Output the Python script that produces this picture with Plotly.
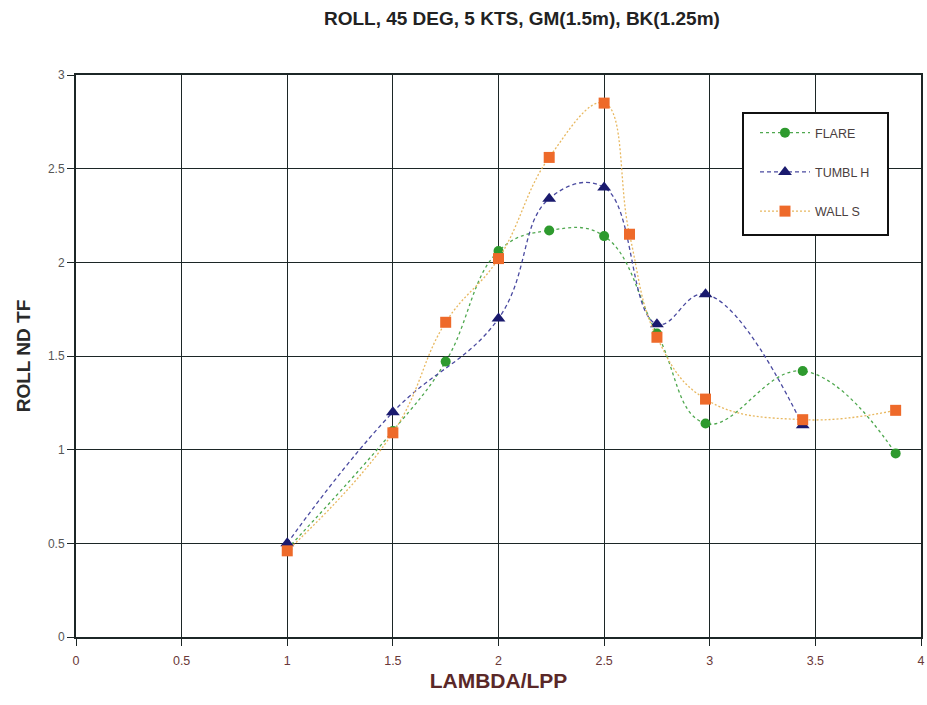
import plotly.graph_objects as go

title = "ROLL, 45 DEG, 5 KTS, GM(1.5m), BK(1.25m)"
x_title = "LAMBDA/LPP"
y_title = "ROLL ND TF"

flare_x = [1.0, 1.5, 1.75, 2.0, 2.24, 2.5, 2.75, 2.98, 3.44, 3.88]
flare_y = [0.47, 1.10, 1.47, 2.06, 2.17, 2.14, 1.62, 1.14, 1.42, 0.98]

tumbl_x = [1.0, 1.5, 2.0, 2.24, 2.5, 2.75, 2.98, 3.44]
tumbl_y = [0.50, 1.20, 1.70, 2.34, 2.40, 1.67, 1.83, 1.13]

wall_x = [1.0, 1.5, 1.75, 2.0, 2.24, 2.5, 2.62, 2.75, 2.98, 3.44, 3.88]
wall_y = [0.46, 1.09, 1.68, 2.02, 2.56, 2.85, 2.15, 1.60, 1.27, 1.16, 1.21]

series = [
    ("FLARE", flare_x, flare_y, "#2e9a2e", "#4fa84f", "circle", 10, "3px,3px"),
    ("TUMBL H", tumbl_x, tumbl_y, "#1a1a6e", "#4a4aa0", "triangle-up", 12, "4px,3px"),
    ("WALL S", wall_x, wall_y, "#ee6a2a", "#e8b860", "square", 11, "2px,2px"),
]

FONT = "Liberation Sans, Arial"

fig = go.Figure()
for name, xs, ys, mcol, lcol, sym, size, dash in series:
    fig.add_trace(go.Scatter(
        x=xs, y=ys, name=name, mode="lines+markers",
        line=dict(color=lcol, width=1.3, dash=dash, shape="spline", smoothing=1.2),
        marker=dict(color=mcol, symbol=sym, size=size),
        legendgroup=name,
    ))

axis_common = dict(
    showgrid=True, gridcolor="#1c2626", gridwidth=1.3,
    showline=True, linecolor="#1c2626", linewidth=2, mirror=True,
    ticks="outside", ticklen=7, tickcolor="#1c2626",
    zeroline=False, automargin=False,
)

# legend frame (pixel geometry converted to paper coords of the plot area)
L, R, T, B = 76, 921, 75, 637
def px(x):
    return (x - L) / (R - L)
def py(y):
    return (B - y) / (B - T)

fig.add_shape(type="rect", xref="paper", yref="paper",
              x0=px(743), x1=px(888), y0=py(235), y1=py(113),
              line=dict(color="#111", width=2), fillcolor="white", layer="above")

fig.update_layout(
    width=927, height=705,
    paper_bgcolor="white", plot_bgcolor="white",
    margin=dict(l=L, r=927 - R, t=T, b=705 - B),
    title=dict(text=f"<b>{title}</b>", x=0.563, xanchor="center", y=1 - 18 / 705, yanchor="middle",
               font=dict(family=FONT, size=19, color="#222")),
    xaxis=dict(range=[0, 4], dtick=0.5, tick0=0,
               tickfont=dict(family=FONT, size=12.5, color="#6a3838"),
               ticklabelstandoff=4,
               title=dict(text=f"<b>{x_title}</b>", standoff=6,
                          font=dict(family=FONT, size=21, color="#5a2828")),
               **axis_common),
    yaxis=dict(range=[0, 3], dtick=0.5, tick0=0,
               tickfont=dict(family=FONT, size=12, color="#555"),
               title=dict(text=f"<b>{y_title}</b>", standoff=12,
                          font=dict(family=FONT, size=19, color="#2a2a2a")),
               **axis_common),
    legend=dict(x=px(755), y=py(118), xanchor="left", yanchor="top",
                bgcolor="rgba(0,0,0,0)", borderwidth=0,
                font=dict(family=FONT, size=12.5, color="#4a4040"),
                tracegroupgap=20, itemwidth=50),
    showlegend=True,
)

fig.write_html("out.html", config={"displayModeBar": False},
               post_script="document.body.style.margin='0';document.body.style.overflow='hidden';")
